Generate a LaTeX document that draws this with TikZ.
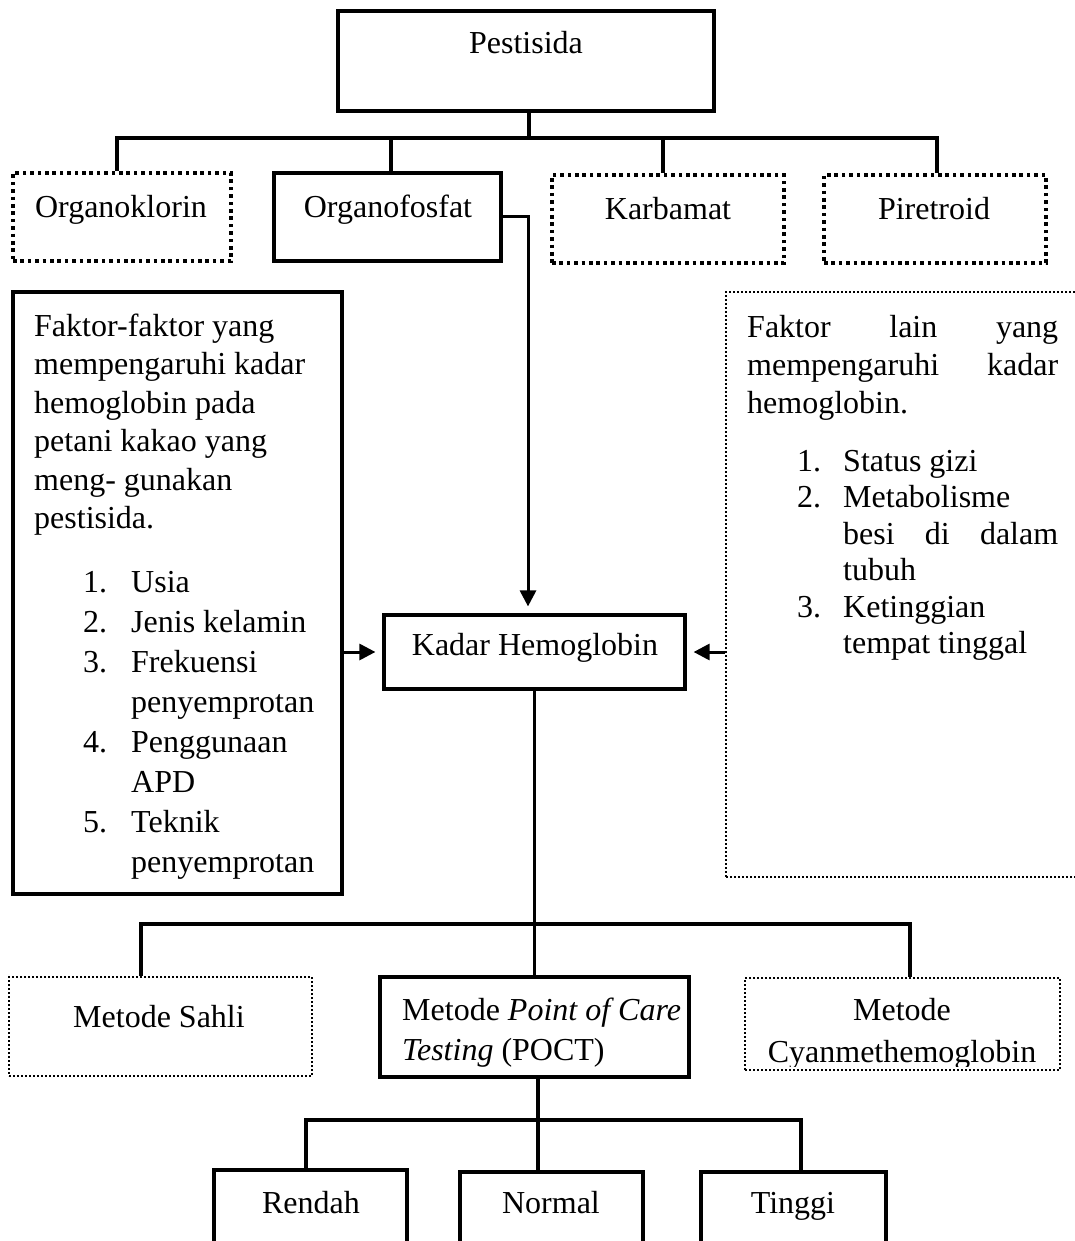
\documentclass[tikz,border=0pt]{standalone}
\usepackage{fontspec}
\setmainfont{Liberation Serif}
\usetikzlibrary{arrows.meta}
\begin{document}
\begin{tikzpicture}[x=1pt,y=-1pt,
  every node/.style={font=\fontsize{32}{38.5}\selectfont, inner sep=0pt},
  solidbox/.style={draw, line width=3.2pt, rectangle},
  dotbox/.style={draw, line width=3.6pt, dash pattern=on 3.6pt off 3.8pt},
  finedot/.style={draw, line width=2pt, dash pattern=on 2pt off 2pt},
  conn/.style={line width=3.2pt},
  arr/.style={line width=3pt, shorten >=7pt, -{Triangle[length=16pt 0 1,width=16pt 0 1]}},
  txt/.style={anchor=base west},
  ctxt/.style={anchor=base},
]
\useasboundingbox (0,0) rectangle (1075,1241);

% ---------- top level ----------
\node[solidbox, minimum width=376pt, minimum height=100pt] (pest) at (526,61) {};
\node[ctxt] (pesttxt) at (526,54) {Pestisida};

\node[dotbox, minimum width=218pt, minimum height=88pt] (ok) at (122,217) {};
\node[ctxt] (oktxt) at (121,218) {Organoklorin};
\node[solidbox, minimum width=227pt, minimum height=88pt] (of) at (387.5,217) {};
\node[ctxt] (oftxt) at (388,218) {Organofosfat};
\node[dotbox, minimum width=232pt, minimum height=88pt] (kb) at (668,219) {};
\node[ctxt] (kbtxt) at (668,220) {Karbamat};
\node[dotbox, minimum width=222pt, minimum height=88pt] (pir) at (935,219) {};
\node[ctxt] (pirtxt) at (934,220) {Piretroid};

\coordinate (bar1) at (0,138);
\draw[conn] ([xshift=3pt]pest.south) -- ([xshift=3pt]pest.south |- bar1);
\draw[conn] ([xshift=-5pt]ok.north) |- ([xshift=2pt]pir.north |- bar1) -- ([xshift=2pt]pir.north);
\draw[conn] ([xshift=3.5pt]of.north) -- ([xshift=3.5pt]of.north |- bar1);
\draw[conn] ([xshift=-5pt]kb.north) -- ([xshift=-5pt]kb.north |- bar1);

% ---------- middle ----------
\node[solidbox, minimum width=301pt, minimum height=74pt] (kadar) at (534.5,652) {};
\node[ctxt] (kadartxt) at (535,655) {Kadar Hemoglobin};

\draw[arr] (of.east) -| ([xshift=-6.5pt]kadar.north);

\node[solidbox, minimum width=329pt, minimum height=602pt] (left) at (177.5,593) {};
\node[txt] (l1) at (34,336) {Faktor-faktor yang};
\node[txt] (l2) at (34,374.5) {mempengaruhi kadar};
\node[txt] (l3) at (34,413) {hemoglobin pada};
\node[txt] (l4) at (34,451.5) {petani kakao yang};
\node[txt] (l5) at (34,490) {meng- gunakan};
\node[txt] (l6) at (34,528.5) {pestisida.};
\node[txt] (n1) at (83,592) {1.};
\node[txt] (i1) at (131,592) {Usia};
\node[txt] (n2) at (83,632) {2.};
\node[txt] (i2) at (131,632) {Jenis kelamin};
\node[txt] (n3) at (83,672) {3.};
\node[txt] (i3) at (131,672) {Frekuensi};
\node[txt] (i3b) at (131,712) {penyemprotan};
\node[txt] (n4) at (83,752) {4.};
\node[txt] (i4) at (131,752) {Penggunaan};
\node[txt] (i4b) at (131,792) {APD};
\node[txt] (n5) at (83,832) {5.};
\node[txt] (i5) at (131,832) {Teknik};
\node[txt] (i5b) at (131,872) {penyemprotan};

\node[finedot, minimum width=374pt, minimum height=585pt] (right) at (913,584.5) {};
\node[txt] (r1) at (747,337) {\makebox[311pt][s]{Faktor lain yang}};
\node[txt] (r2) at (747,375) {\makebox[311pt][s]{mempengaruhi kadar}};
\node[txt] (r3) at (747,413) {hemoglobin.};
\node[txt] (rn1) at (797,471) {1.};
\node[txt] (ri1) at (843,471) {Status gizi};
\node[txt] (rn2) at (797,507.5) {2.};
\node[txt] (ri2) at (843,507.5) {Metabolisme};
\node[txt] (ri2b) at (843,544) {\makebox[215pt][s]{besi di dalam}};
\node[txt] (ri2c) at (843,580.5) {tubuh};
\node[txt] (rn3) at (797,617) {3.};
\node[txt] (ri3) at (843,617) {Ketinggian};
\node[txt] (ri3b) at (843,653.5) {tempat tinggal};

\draw[arr] (left.east |- kadar) -- (kadar.west);
\draw[arr] (right.west |- kadar) -- (kadar.east);

% ---------- methods ----------
\node[finedot, minimum width=303pt, minimum height=99pt] (sahli) at (160.5,1026.5) {};
\node[ctxt] (sahlitxt) at (159,1027) {Metode Sahli};
\node[solidbox, minimum width=309pt, minimum height=100pt] (poct) at (534.5,1027) {};
\node[txt] (poct1) at (402,1020) {Metode \textit{Point of Care}};
\node[txt] (poct2) at (402,1060) {\textit{Testing} (POCT)};
\node[finedot, minimum width=315pt, minimum height=92pt] (cyan) at (902.5,1024) {};
\node[ctxt] (cyan1) at (902,1020) {Metode};
\begin{scope}
\clip (745,1030) rectangle (1060,1066);
\node[ctxt] (cyan2) at (902,1062) {Cyanmethemoglobin};
\end{scope}

\coordinate (bar2) at (0,924);
\draw[conn] (kadar.south) -- (poct.north);
\draw[conn] ([xshift=-19.5pt]sahli.north) |- ([xshift=7.5pt]cyan.north |- bar2) -- ([xshift=7.5pt]cyan.north);

% ---------- results ----------
\node[solidbox, minimum width=193pt, minimum height=92pt] (rendah) at (310.5,1216) {};
\node[ctxt] (rendahtxt) at (311,1213) {Rendah};
\node[solidbox, minimum width=183pt, minimum height=90pt] (normal) at (551.5,1217) {};
\node[ctxt] (normaltxt) at (551,1213) {Normal};
\node[solidbox, minimum width=185pt, minimum height=90pt] (tinggi) at (793.5,1217) {};
\node[ctxt] (tinggitxt) at (793,1213) {Tinggi};

\coordinate (bar3) at (0,1120);
\draw[conn] ([xshift=3.5pt]poct.south) -- ([xshift=3.5pt]poct.south |- normal.north);
\draw[conn] ([xshift=-4.5pt]rendah.north) |- ([xshift=7.5pt]tinggi.north |- bar3) -- ([xshift=7.5pt]tinggi.north);
\end{tikzpicture}
\end{document}
